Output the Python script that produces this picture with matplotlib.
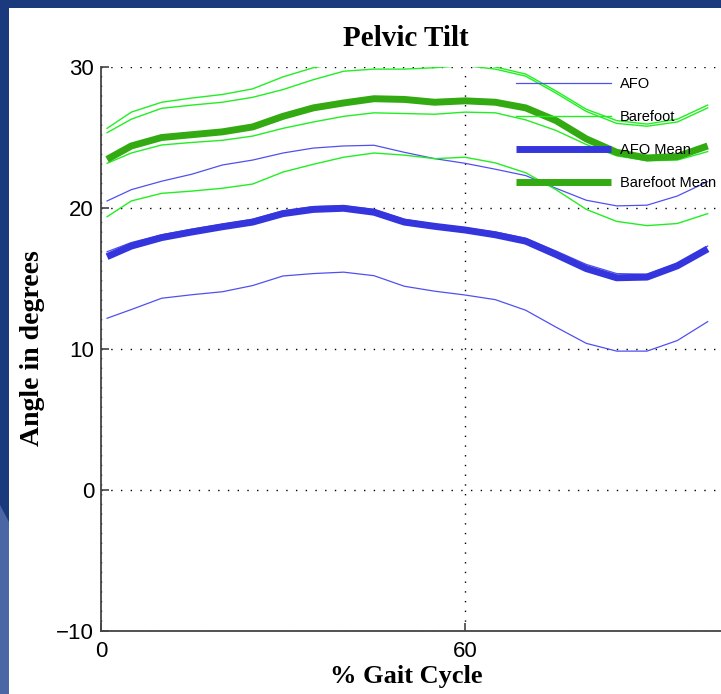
import matplotlib.pyplot as plt
from matplotlib.patches import Rectangle, Polygon

# % gait cycle sample positions
gait = [1, 5, 10, 15, 20, 25, 30, 35, 40, 45, 50, 55, 60, 65, 70, 75, 80, 85, 90, 95, 100]

# AFO trials and mean (degrees)
afo_1 = [20.5, 21.3, 21.9, 22.4, 23.05, 23.4, 23.9, 24.25, 24.4, 24.45, 23.95, 23.5, 23.17, 22.75, 22.3, 21.4, 20.55, 20.15, 20.2, 20.85, 21.87]
afo_2 = [12.18, 12.8, 13.6, 13.85, 14.06, 14.5, 15.18, 15.35, 15.45, 15.2, 14.45, 14.1, 13.83, 13.5, 12.75, 11.55, 10.4, 9.85, 9.85, 10.6, 11.94]
afo_3 = [16.9, 17.55, 18.1, 18.5, 18.85, 19.2, 19.8, 20.1, 20.15, 19.9, 19.2, 18.85, 18.6, 18.3, 17.85, 16.95, 16.0, 15.35, 15.3, 16.05, 17.3]
afo_mean = [16.55, 17.3, 17.9, 18.3, 18.67, 19.0, 19.6, 19.9, 19.98, 19.7, 19.0, 18.7, 18.44, 18.1, 17.65, 16.7, 15.7, 15.05, 15.1, 15.9, 17.1]

# Barefoot trials and mean (degrees)
bare_1 = [25.65, 26.8, 27.5, 27.8, 28.05, 28.45, 29.3, 29.95, 30.3, 30.5, 30.5, 30.5, 30.4, 30.0, 29.5, 28.3, 27.0, 26.2, 25.95, 26.3, 27.3]
bare_2 = [25.34, 26.3, 27.07, 27.3, 27.5, 27.85, 28.4, 29.1, 29.7, 29.85, 29.85, 29.95, 30.1, 29.85, 29.35, 28.15, 26.85, 26.0, 25.8, 26.1, 27.1]
bare_3 = [23.17, 23.9, 24.47, 24.65, 24.8, 25.1, 25.65, 26.1, 26.5, 26.75, 26.7, 26.65, 26.8, 26.75, 26.25, 25.5, 24.5, 23.7, 23.35, 23.4, 24.0]
bare_4 = [19.38, 20.5, 21.04, 21.2, 21.4, 21.7, 22.55, 23.1, 23.6, 23.9, 23.75, 23.5, 23.6, 23.2, 22.5, 21.3, 19.9, 19.05, 18.75, 18.9, 19.6]
bare_mean = [23.45, 24.4, 25.0, 25.2, 25.4, 25.75, 26.5, 27.1, 27.45, 27.75, 27.7, 27.5, 27.6, 27.5, 27.1, 26.2, 24.9, 23.95, 23.55, 23.65, 24.4]

afo_trials = [afo_1, afo_2, afo_3]
bare_trials = [bare_1, bare_2, bare_3, bare_4]

W, H = 721, 694
fig = plt.figure(figsize=(W / 100, H / 100), dpi=100)
fig.patch.set_facecolor('#1b3a7e')

# slide background: white panel with a lighter wedge bottom-left
fig.patches.append(Rectangle((9 / W, 0), 1 - 9 / W, 1 - 8 / H, transform=fig.transFigure,
                             facecolor='white', edgecolor='none', zorder=-10))
fig.patches.append(Polygon([(0, 1 - 505 / H), (9 / W, 1 - 522 / H), (9 / W, 0), (0, 0)],
                           closed=True, transform=fig.transFigure,
                           facecolor='#4a66a4', edgecolor='none', zorder=-10))

ax = fig.add_axes([101 / W, 1 - 631 / H, 728 / W, 564 / H])
ax.set_facecolor('white')

for i, tr in enumerate(afo_trials):
    ax.plot(gait, tr, color='#5050f0', lw=0.9, label='AFO' if i == 0 else None)
for i, tr in enumerate(bare_trials):
    ax.plot(gait, tr, color='#22ee22', lw=1.0, label='Barefoot' if i == 0 else None)
ax.plot(gait, afo_mean, color='#3535dd', lw=5, label='AFO Mean', solid_capstyle='butt')
ax.plot(gait, bare_mean, color='#33aa11', lw=5, label='Barefoot Mean', solid_capstyle='butt')

ax.set_xlim(0, 120)
ax.set_ylim(-10, 30)
ax.set_xticks([0, 60])
ax.set_yticks([-10, 0, 10, 20, 30])
ax.set_yticklabels(['\u221210', '0', '10', '20', '30'])
ax.grid(True, linestyle=(0, (1, 6)), color='black', lw=1.0)
for sp in ['top', 'right']:
    ax.spines[sp].set_visible(False)
for sp in ['left', 'bottom']:
    ax.spines[sp].set_color('#444444')
    ax.spines[sp].set_linewidth(1.3)
ax.tick_params(direction='in', length=6, width=1.2, color='#444444',
               labelsize=16, pad=5)
for lab in ax.get_xticklabels() + ax.get_yticklabels():
    lab.set_family('Liberation Sans')
ax.tick_params(axis='x', pad=7)

leg = ax.legend(loc='upper left', bbox_to_anchor=(516 / W, 1 - 77 / H),
                bbox_transform=fig.transFigure, frameon=False,
                prop={'family': 'Liberation Sans', 'size': 10.5},
                handlelength=6.5, handletextpad=0.6, labelspacing=1.3,
                borderpad=0, borderaxespad=0)

serif = {'family': 'Liberation Serif', 'weight': 'bold'}
fig.text(406 / W, 1 - 38 / H, 'Pelvic Tilt', ha='center', va='center', fontsize=21, **serif)
fig.text(406 / W, 1 - 677 / H, '% Gait Cycle', ha='center', va='center', fontsize=19, **serif)
fig.text(33 / W, 1 - 348 / H, 'Angle in degrees', ha='center', va='center',
         rotation=90, fontsize=20, **serif)

fig.savefig('out.png', dpi=100, facecolor=fig.get_facecolor())
